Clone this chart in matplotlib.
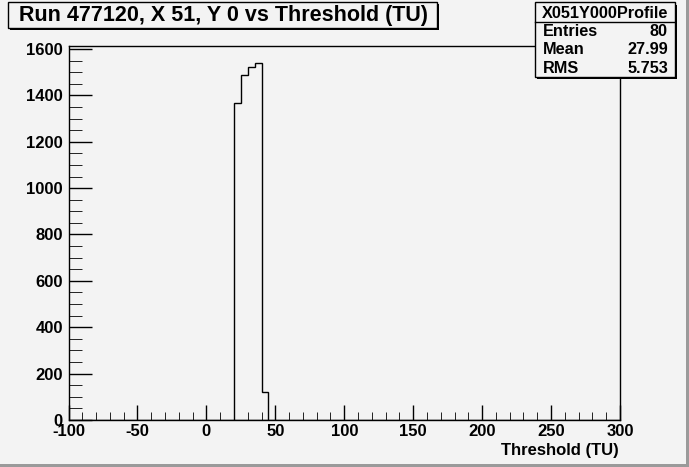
import matplotlib.pyplot as plt
import numpy as np
from matplotlib.patches import Rectangle
from matplotlib.ticker import MultipleLocator

plt.rcParams['font.family'] = ['Liberation Sans', 'DejaVu Sans']
plt.rcParams['font.weight'] = 'bold'
plt.rcParams['axes.unicode_minus'] = False

# histogram contents (only non-empty bins, width 5 TU)
bin_edges = [20, 25, 30, 35, 40, 45]
counts = [1366, 1488, 1521, 1538, 121]

title = "Run 477120, X 51, Y 0 vs Threshold (TU)"
stats_name = "X051Y000Profile"
stats_rows = [("Entries", "80"), ("Mean", "27.99"), ("RMS", "5.753")]

W, H = 689, 467
bg = "#f3f3f3"

fig = plt.figure(figsize=(W / 100, H / 100), dpi=100, facecolor=bg)
ax = fig.add_axes([68.5 / W, 1 - 420 / H, (620 - 68.5) / W, (420 - 45.5) / H])
ax.set_facecolor(bg)

ax.stairs(counts, bin_edges, color="k", lw=1)
ax.axhline(0, color="k", lw=1)

ax.set_xlim(-100, 300)
ax.set_ylim(0, 1615)
ax.xaxis.set_major_locator(MultipleLocator(50))
ax.xaxis.set_minor_locator(MultipleLocator(10))
ax.yaxis.set_major_locator(MultipleLocator(200))
ax.yaxis.set_minor_locator(MultipleLocator(50))
ax.tick_params(direction="in", which="major", labelsize=12, width=1)
ax.tick_params(axis="x", which="major", length=11, pad=3)
ax.tick_params(axis="x", which="minor", direction="in", length=6)
ax.tick_params(axis="y", which="major", length=16.5, pad=4)
ax.tick_params(axis="y", which="minor", direction="in", length=9)
for s in ax.spines.values():
    s.set_linewidth(1)

fig.text(619 / W, 1 - 451 / H, "Threshold (TU)", ha="right", va="center",
         fontsize=12, fontweight="bold")


def px_rect(x0, y0, x1, y1, **kw):
    r = Rectangle((x0 / W, 1 - y1 / H), (x1 - x0) / W, (y1 - y0) / H,
                  transform=fig.transFigure, **kw)
    fig.patches.append(r)


# canvas border
px_rect(W - 3, 0, W, H, facecolor="#9a9a9a", edgecolor="none")
px_rect(0, H - 3, W, H, facecolor="#9a9a9a", edgecolor="none")

# title box with shadow
px_rect(10, 4, 439, 30, facecolor="k", edgecolor="none")
px_rect(8, 2, 437, 28, facecolor=bg, edgecolor="k", lw=1)
fig.text(223 / W, 1 - 15.5 / H, title, ha="center", va="center",
         fontsize=15.5, fontweight="bold")

# stats box with shadow
px_rect(537, 5, 677, 79, facecolor="k", edgecolor="none")
px_rect(535, 2, 675, 77, facecolor=bg, edgecolor="k", lw=1)
fig.add_artist(plt.Line2D([535 / W, 675 / W], [1 - 21.5 / H, 1 - 21.5 / H],
                          transform=fig.transFigure, color="k", lw=1))
fig.text(605 / W, 1 - 13.5 / H, stats_name, ha="center", va="center",
         fontsize=11.7, fontweight="bold")
for i, (k, v) in enumerate(stats_rows):
    y = 1 - (31.5 + 18.5 * i) / H
    fig.text(543 / W, y, k, ha="left", va="center", fontsize=11.7, fontweight="bold")
    fig.text(668 / W, y, v, ha="right", va="center", fontsize=11.7, fontweight="bold")

fig.savefig("out.png", dpi=100, facecolor=bg)
